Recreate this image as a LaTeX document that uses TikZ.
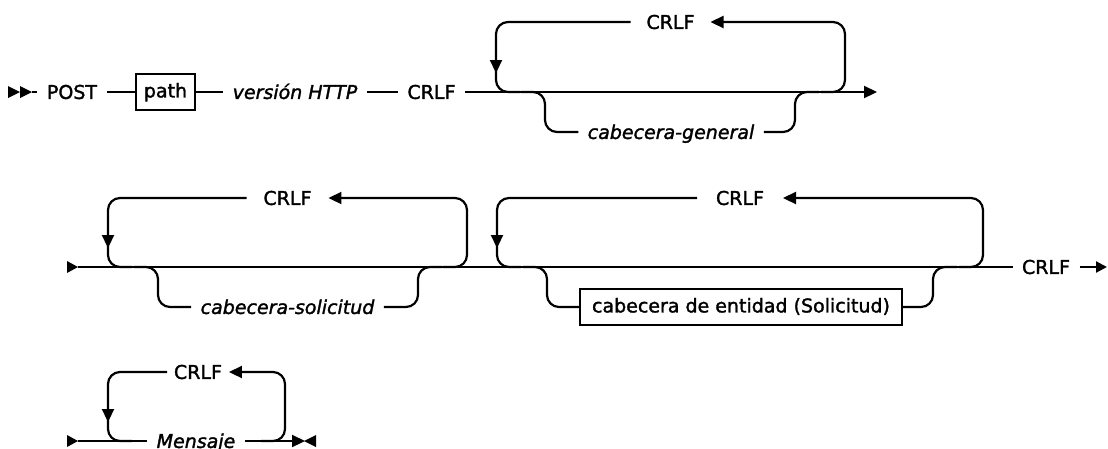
\documentclass[tikz,border=0pt]{standalone}
\usepackage{fontspec}
\setmainfont{DejaVu Sans}[FakeBold=1.6, ItalicFeatures={FakeBold=1.6}]
\usetikzlibrary{arrows.meta}
\tikzset{
  rr/.style={line width=2.2pt},
  rc/.style={rounded corners=12pt},
  lbl/.style={inner xsep=9.5pt, inner ysep=0pt, outer sep=0pt, text height=13.85pt, text depth=0pt, font=\fontsize{19}{22}\selectfont},
  ilbl/.style={lbl, font=\fontsize{19}{22}\selectfont\itshape},
  boxed/.style={lbl, draw, line width=2pt, inner xsep=8pt, text depth=3pt, inner ysep=10pt},
  tip/.style={-{Triangle[length=13pt,width=12pt]}},
  smalltip/.style={-{Triangle[length=11pt,width=11pt]}},
}
\begin{document}
\begin{tikzpicture}[x=1pt,y=-1pt]
\path[fill=white,use as bounding box] (0,0) rectangle (1108,448);

% ---------- Row 1 ----------
\fill (8,86) -- (20,92) -- (8,98) -- cycle;
\fill (20,86) -- (32,92) -- (20,98) -- cycle;
\coordinate (st1) at (32,92);
\node[lbl] (post) at (72,92) {POST};
\node[boxed] (path) at (165.5,92) {path};
\node[ilbl] (http) at (295,92) {versión HTTP};
\node[lbl] (crlf1) at (431.5,92) {CRLF};
\coordinate (end1) at (877,92);
\draw[rr] (st1) -- (post.west);
\draw[rr] (post.east) -- (path.west);
\draw[rr] (path.east) -- (http.west);
\draw[rr] (http.east) -- (crlf1.west);
\draw[rr,tip] (crlf1.east) -- (end1);
% loop
\node[lbl, inner xsep=16pt] (rep1) at (670.5,22) {CRLF};
\draw[rr,rc,tip] (821,92) -- (845,92) -- (845,22) -- (rep1.east);
\draw[rr,rc,tip] (rep1.west) -- (496,22) -- (496,73);
\draw[rr,rc] (496,60) -- (496,92) -- (520,92);
% branch
\node[ilbl] (gen) at (671,132) {cabecera-general};
\draw[rr,rc] (521,92) -- (545,92) -- (545,132) -- (gen.west);
\draw[rr,rc] (gen.east) -- (795,132) -- (795,92) -- (819,92);

% ---------- Row 2 ----------
\fill (67,261) -- (78,267) -- (67,273) -- cycle;
\coordinate (st2) at (78,267);
\node[lbl] (crlf2) at (1046,267) {CRLF};
\coordinate (end2) at (1107,267);
\draw[rr] (st2) -- (crlf2.west);
\draw[rr,smalltip] (crlf2.east) -- (end2);
% loop A
\node[lbl, inner xsep=17pt] (repA) at (287.5,198) {CRLF};
\draw[rr,rc,tip] (443,267) -- (467,267) -- (467,198) -- (repA.east);
\draw[rr,rc,tip] (repA.west) -- (108,198) -- (108,248);
\draw[rr,rc] (108,236) -- (108,267) -- (132,267);
% branch A
\node[ilbl] (sol) at (287.5,307) {cabecera-solicitud};
\draw[rr,rc] (134,267) -- (158,267) -- (158,307) -- (sol.west);
\draw[rr,rc] (sol.east) -- (418,307) -- (418,267) -- (442,267);
% loop B
\node[lbl, inner xsep=19pt] (repB) at (740,198) {CRLF};
\draw[rr,rc,tip] (959,267) -- (983,267) -- (983,198) -- (repB.east);
\draw[rr,rc,tip] (repB.west) -- (497,198) -- (497,248);
\draw[rr,rc] (497,236) -- (497,267) -- (521,267);
% branch B
\node[boxed, minimum width=322pt] (ent) at (741,307) {cabecera de entidad (Solicitud)};
\draw[rr,rc] (523,267) -- (547,267) -- (547,307) -- (ent.west);
\draw[rr,rc] (ent.east) -- (933,307) -- (933,267) -- (957,267);

% ---------- Row 3 ----------
\fill (67,435) -- (78,441) -- (67,447) -- cycle;
\coordinate (st3) at (78,441);
\node[ilbl] (mens) at (196,441) {Mensaje};
\coordinate (end3) at (305,441);
\draw[rr] (st3) -- (mens.west);
\draw[rr,tip] (mens.east) -- (end3);
\fill (316,435) -- (304,441) -- (316,447) -- cycle;
% loop C
\node[lbl, inner xsep=7pt] (repC) at (198,372) {CRLF};
\draw[rr,rc,tip] (261,441) -- (285,441) -- (285,372) -- (repC.east);
\draw[rr,rc,tip] (repC.west) -- (108,372) -- (108,422);
\draw[rr,rc] (108,410) -- (108,441) -- (132,441);
\end{tikzpicture}
\end{document}
